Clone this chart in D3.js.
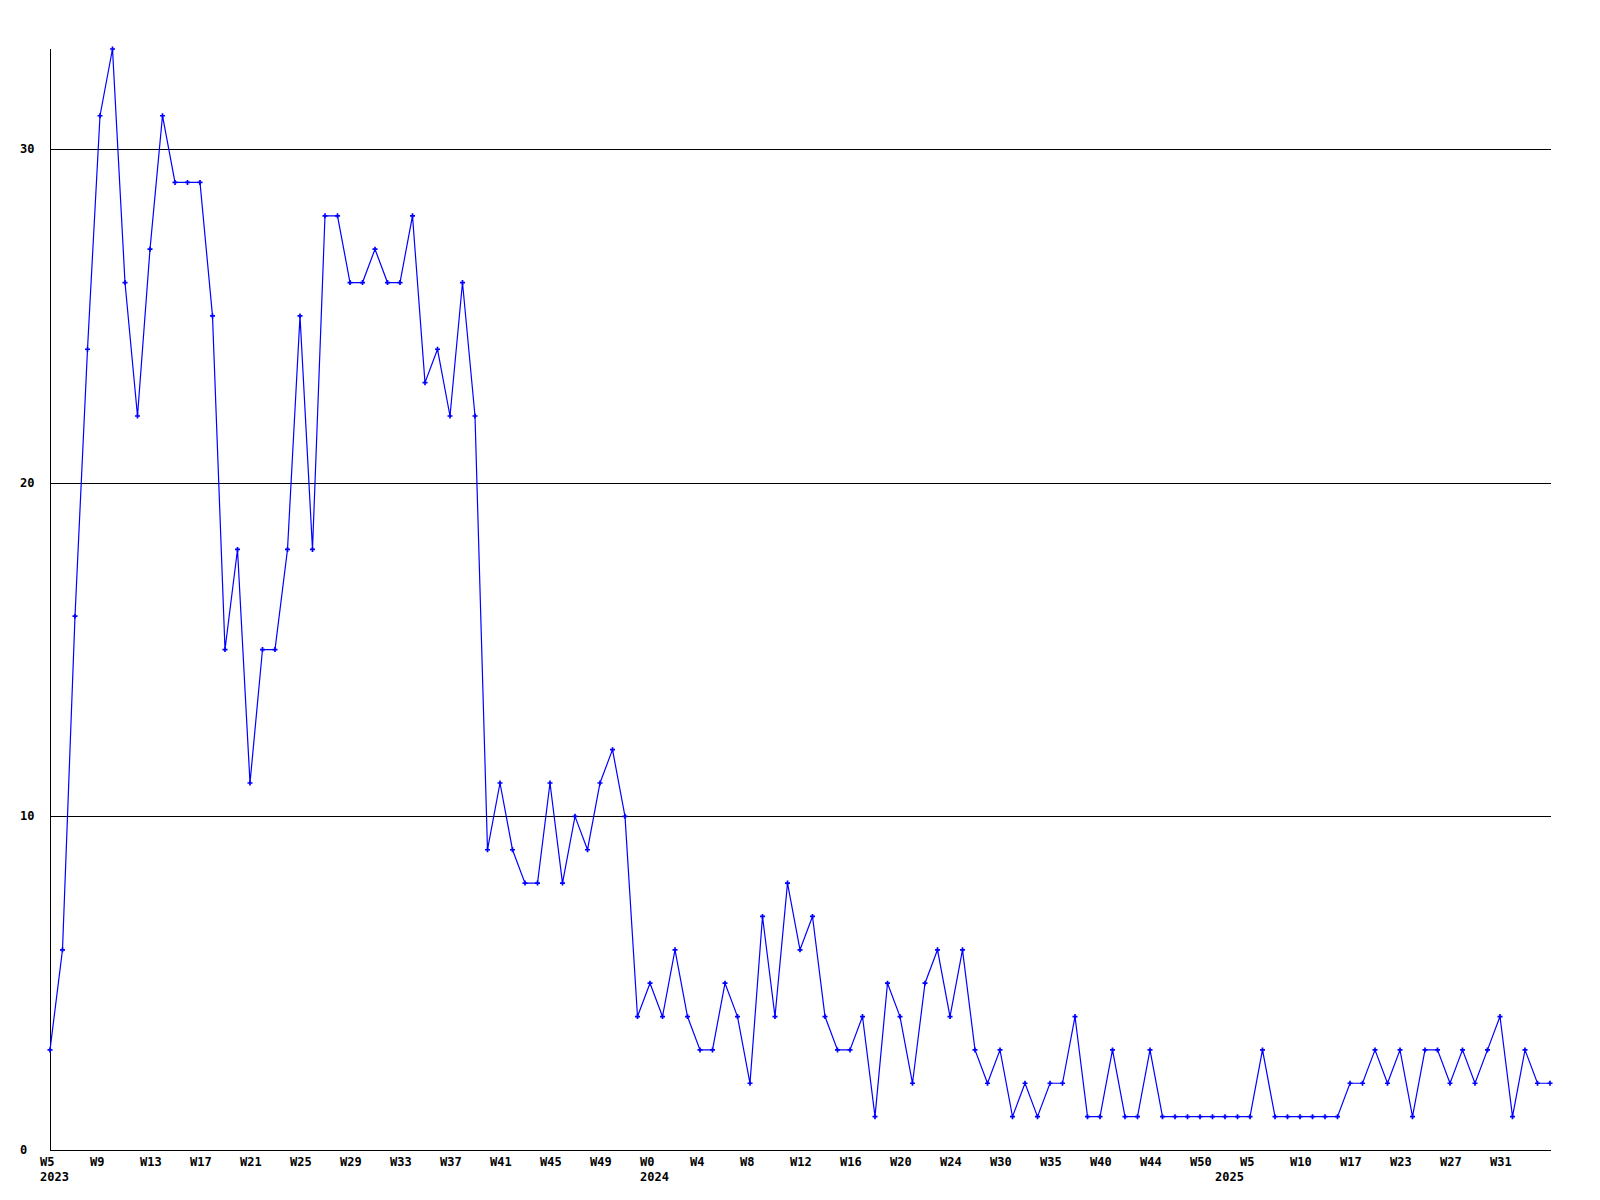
<!DOCTYPE html>
<html>
<head>
<meta charset="utf-8">
<script src="https://cdn.jsdelivr.net/npm/d3@7"></script>
<style>
  html, body { margin: 0; padding: 0; background: #ffffff; }
  svg { display: block; }
  text { font-family: "DejaVu Sans Mono", "Liberation Mono", monospace; font-weight: bold; font-size: 12px; fill: #000; }
</style>
</head>
<body>
<svg id="chart" width="1600" height="1200"></svg>
<script>
// Weekly counts, one value per plotted week (2023 W5 onward)
const counts = [
  3, 6, 16, 24, 31, 33, 26, 22, 27, 31, 29, 29, 29, 25, 15, 18, 11, 15, 15, 18,
  25, 18, 28, 28, 26, 26, 27, 26, 26, 28, 23, 24, 22, 26, 22, 9, 11, 9, 8, 8,
  11, 8, 10, 9, 11, 12, 10, 4, 5, 4, 6, 4, 3, 3, 5, 4, 2, 7, 4, 8,
  6, 7, 4, 3, 3, 4, 1, 5, 4, 2, 5, 6, 4, 6, 3, 2, 3, 1, 2, 1,
  2, 2, 4, 1, 1, 3, 1, 1, 3, 1, 1, 1, 1, 1, 1, 1, 1, 3, 1, 1,
  1, 1, 1, 1, 2, 2, 3, 2, 3, 1, 3, 3, 2, 3, 2, 3, 4, 1, 3, 2,
  2
];
// Tick labels, shown on every 4th point
const tickLabels = [
  "W5", "W9", "W13", "W17", "W21", "W25", "W29", "W33", "W37", "W41", "W45", "W49",
  "W0", "W4", "W8", "W12", "W16", "W20", "W24", "W30", "W35", "W40", "W44", "W50",
  "W5", "W10", "W17", "W23", "W27", "W31"
];
const tickEvery = 4;
// Year labels and the point index they sit under
const yearLabels = ["2023", "2024", "2025"];
const yearIndex = [0, 48, 94];
const yTicks = [0, 10, 20, 30];
const yMax = 33;

const svg = d3.select("#chart");
const mLeft = 50, mRight = 1550, mTop = 49, mBottom = 1150;

const x = d3.scaleLinear().domain([0, counts.length - 1]).range([mLeft, mRight]);
const y = d3.scaleLinear().domain([0, yMax]).range([mBottom, mTop]);

// gridlines
svg.append("g").selectAll("line")
  .data(yTicks.filter(d => d > 0))
  .join("line")
  .attr("x1", mLeft).attr("x2", mRight + 1)
  .attr("y1", d => Math.round(y(d)) + 0.5).attr("y2", d => Math.round(y(d)) + 0.5)
  .attr("stroke", "#000").attr("stroke-width", 1)
  .attr("shape-rendering", "crispEdges");

// axes lines
svg.append("line")
  .attr("x1", mLeft + 0.5).attr("x2", mLeft + 0.5)
  .attr("y1", mTop).attr("y2", mBottom + 0.5)
  .attr("stroke", "#000").attr("shape-rendering", "crispEdges");
svg.append("line")
  .attr("x1", mLeft).attr("x2", mRight + 1)
  .attr("y1", mBottom + 0.5).attr("y2", mBottom + 0.5)
  .attr("stroke", "#000").attr("shape-rendering", "crispEdges");

// y labels
svg.append("g").selectAll("text")
  .data(yTicks)
  .join("text")
  .attr("x", 20)
  .attr("y", d => Math.round(y(d)) + 4)
  .text(d => d);

// x tick labels
svg.append("g").selectAll("text")
  .data(tickLabels)
  .join("text")
  .attr("x", (d, i) => x(i * tickEvery) - 10)
  .attr("y", mBottom + 16)
  .text(d => d);

// year labels
svg.append("g").selectAll("text")
  .data(yearLabels)
  .join("text")
  .attr("x", (d, i) => x(yearIndex[i]) - 10)
  .attr("y", mBottom + 31)
  .text(d => d);

// line
const line = d3.line()
  .x((d, i) => x(i))
  .y(d => y(d));
svg.append("path")
  .datum(counts)
  .attr("d", line)
  .attr("fill", "none")
  .attr("stroke", "#0000ff")
  .attr("stroke-width", 1.2);

// markers
const marker = d3.symbol().type(d3.symbolCross).size(14);
svg.append("g").selectAll("path")
  .data(counts)
  .join("path")
  .attr("transform", (d, i) => `translate(${x(i)},${y(d)})`)
  .attr("d", marker)
  .attr("fill", "#0000ff");
</script>
</body>
</html>
